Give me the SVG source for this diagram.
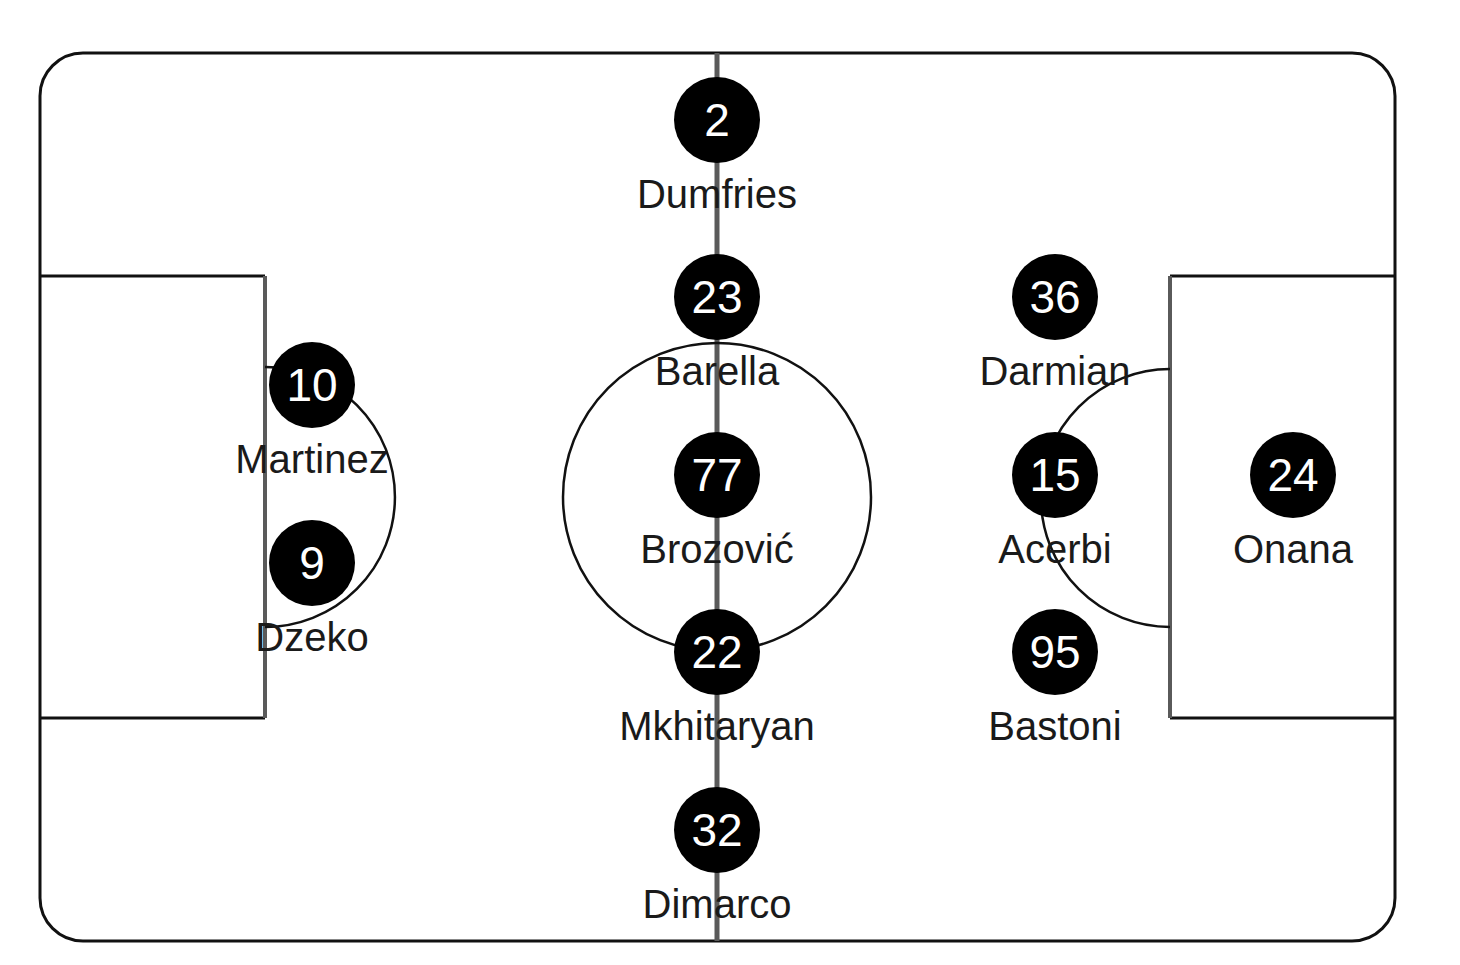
<svg xmlns="http://www.w3.org/2000/svg" width="1460" height="965" viewBox="0 0 1460 965">
<style>
.pitch{fill:none;stroke:#111;stroke-width:3}
.thin{fill:none;stroke:#111;stroke-width:2.5}
.gline{fill:none;stroke:#5a5a5a;stroke-width:5}
.gside{fill:none;stroke:#5a5a5a;stroke-width:4}
.dot{fill:#000}
.num{font-family:"Liberation Sans",Arial,sans-serif;font-size:46px;fill:#fff;text-anchor:middle}
.name{font-family:"Liberation Sans",Arial,sans-serif;font-size:40px;fill:#1a1a1a;text-anchor:middle}
</style>
<rect width="1460" height="965" fill="#fff"/>
<g id="pitch">
<rect class="pitch" x="40" y="53" width="1355" height="888" rx="43" ry="43"/>
<line class="gline" x1="717" y1="53" x2="717" y2="941"/>
<circle class="thin" cx="717" cy="497" r="154"/>
<path class="pitch" d="M40 276 H265 M40 718 H265"/>
<line class="gside" x1="265" y1="276" x2="265" y2="718"/>
<path class="thin" d="M265 367 A130 130 0 0 1 265 627"/>
<path class="pitch" d="M1395 276 H1170 M1395 718 H1170"/>
<line class="gside" x1="1170" y1="276" x2="1170" y2="718"/>
<path class="thin" d="M1170 369 A129 129 0 0 0 1170 627"/>
</g>
<g id="p2"><circle class="dot" cx="717" cy="120" r="43"/><text class="num" x="717" y="136">2</text><text class="name" x="717" y="208">Dumfries</text></g>
<g id="p23"><circle class="dot" cx="717" cy="297" r="43"/><text class="num" x="717" y="313">23</text><text class="name" x="717" y="385">Barella</text></g>
<g id="p77"><circle class="dot" cx="717" cy="475" r="43"/><text class="num" x="717" y="491">77</text><text class="name" x="717" y="563">Brozović</text></g>
<g id="p22"><circle class="dot" cx="717" cy="652" r="43"/><text class="num" x="717" y="668">22</text><text class="name" x="717" y="740">Mkhitaryan</text></g>
<g id="p32"><circle class="dot" cx="717" cy="830" r="43"/><text class="num" x="717" y="846">32</text><text class="name" x="717" y="918">Dimarco</text></g>
<g id="p36"><circle class="dot" cx="1055" cy="297" r="43"/><text class="num" x="1055" y="313">36</text><text class="name" x="1055" y="385">Darmian</text></g>
<g id="p15"><circle class="dot" cx="1055" cy="475" r="43"/><text class="num" x="1055" y="491">15</text><text class="name" x="1055" y="563">Acerbi</text></g>
<g id="p95"><circle class="dot" cx="1055" cy="652" r="43"/><text class="num" x="1055" y="668">95</text><text class="name" x="1055" y="740">Bastoni</text></g>
<g id="p24"><circle class="dot" cx="1293" cy="475" r="43"/><text class="num" x="1293" y="491">24</text><text class="name" x="1293" y="563">Onana</text></g>
<g id="p10"><circle class="dot" cx="312" cy="385" r="43"/><text class="num" x="312" y="401">10</text><text class="name" x="312" y="473">Martinez</text></g>
<g id="p9"><circle class="dot" cx="312" cy="563" r="43"/><text class="num" x="312" y="579">9</text><text class="name" x="312" y="651">Dzeko</text></g>
</svg>
